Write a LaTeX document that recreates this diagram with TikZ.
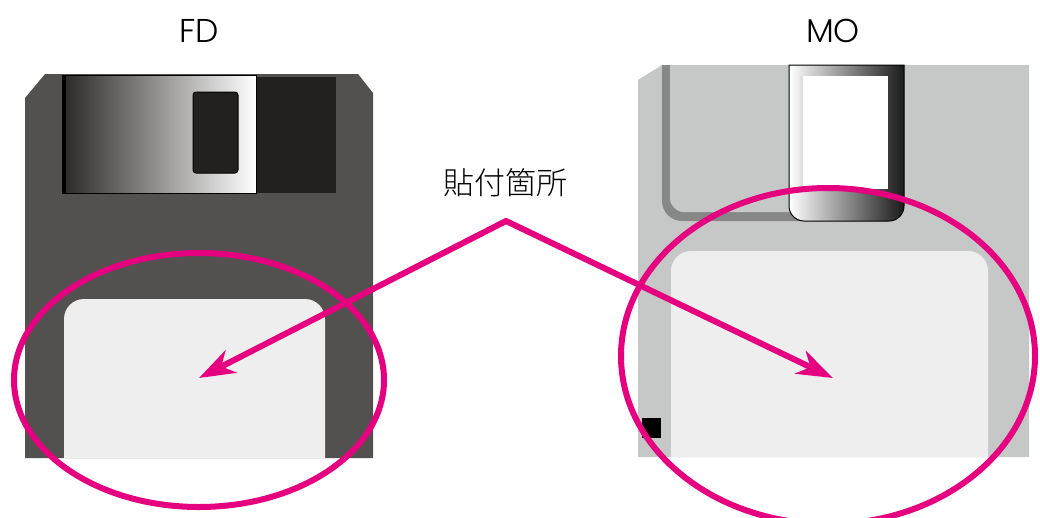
\documentclass[tikz,border=0pt]{standalone}
\usepackage{fontspec}
\setmainfont{Poppins Light}
\newfontfamily\jpfont{Noto Sans CJK JP Light}
\usetikzlibrary{arrows.meta}

\definecolor{hilite}{HTML}{E4007F}
\definecolor{fdbody}{HTML}{53514F}
\definecolor{fddark}{HTML}{222120}
\definecolor{labelgray}{HTML}{EEEEEE}
\definecolor{mobody}{HTML}{C6C8C7}
\definecolor{morecess}{HTML}{878787}
\definecolor{fdshutL}{HTML}{2A2826}

\tikzset{
  markring/.style={draw=hilite, line width=6pt},
  pointer/.style={draw=hilite, line width=6pt, line join=miter,
    {Stealth[length=36pt,width=25pt,inset=11pt]}-{Stealth[length=36pt,width=25pt,inset=11pt]}},
  disktitle/.style={font=\fontsize{33}{36}\selectfont, text=black},
  calloutlabel/.style={font=\jpfont\fontsize{31}{34}\selectfont, text=black}
}

\begin{document}
\begin{tikzpicture}[x=1pt,y=-1pt]
\useasboundingbox (0,0) rectangle (1040,517);
\clip (0,0) rectangle (1040,517);
\fill[white] (0,0) rectangle (1040,517);

% ---------- 3.5" floppy disk ----------
\fill[fdbody] (45,74) -- (358,74) -- (373,93) -- (373,458) -- (25,458) -- (25,98) -- cycle;
\fill[fddark] (256,77) rectangle (336,193);
\shade[left color=fdshutL, right color=white, draw=black, line width=1pt]
  (62,75) rectangle (256,193);
\fill[black] (62,75) rectangle (66,193);
\draw[fill=fddark, draw=black, line width=1pt, rounded corners=3pt]
  (193,92) rectangle (238,173);
\fill[labelgray] (64,458) [rounded corners=20pt] -- (64,299) -- (325,299) [sharp corners] -- (325,458) -- cycle;

% ---------- magneto-optical disk ----------
\fill[mobody] (662,65) -- (1029,65) -- (1029,457) -- (638,457) -- (638,80) -- cycle;
\fill[morecess] (662,65) [rounded corners=20pt] -- (662,221) [sharp corners] -- (800,221) -- (800,65) -- cycle;
\fill[mobody] (670,65) [rounded corners=14pt] -- (670,212) [sharp corners] -- (800,212) -- (800,65) -- cycle;
\shade[left color=white, right color=black!90, draw=black, line width=1pt]
  (789,65) [rounded corners=15pt] -- (789,221) -- (904,221) [sharp corners] -- (904,65) -- cycle;
\fill[white] (800,76) rectangle (888,189);
\fill[black!12] (800,76) rectangle (803,189);
\fill[labelgray] (671,457) [rounded corners=20pt] -- (671,251) -- (988,251) [sharp corners] -- (988,457) -- cycle;
\fill[black] (642,418) rectangle (661,438);

% ---------- highlight rings ----------
\draw[markring] (199,380) ellipse [x radius=185, y radius=127];
\draw[markring] (828,356) ellipse [x radius=207, y radius=168];

% ---------- titles and callout ----------
\node[disktitle] (fdtitle) at (199,31) {FD};
\node[disktitle] (motitle) at (833,31) {MO};
\node[calloutlabel] (callout) at (505,183) {貼付箇所};

\coordinate (apex) at (506,221);
\coordinate (fdtip) at (199,378);
\coordinate (motip) at (833,378);
\draw[pointer] (fdtip) -- (apex) -- (motip);
\end{tikzpicture}
\end{document}
